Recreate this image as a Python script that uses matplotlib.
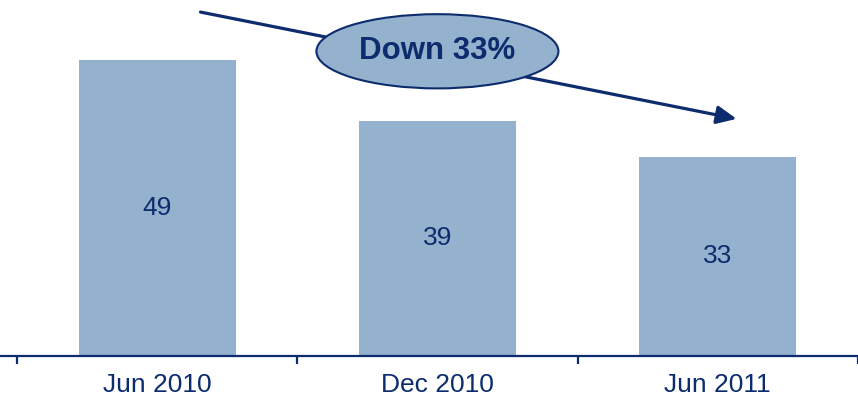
import matplotlib.pyplot as plt
from matplotlib.patches import Ellipse

periods = ["Jun 2010", "Dec 2010", "Jun 2011"]
counts = [49, 39, 33]
change_label = "Down 33%"

navy = "#0C2C6E"
bar_color = "#94B1CD"

plt.rcParams["font.family"] = ["Liberation Sans", "DejaVu Sans"]

fig = plt.figure(figsize=(8.58, 3.99), dpi=100)
ax = fig.add_axes([0, 43 / 399, 1, 356 / 399])

x = list(range(len(periods)))
ax.bar(x, counts, width=0.56, color=bar_color, zorder=2)
for xi, v in zip(x, counts):
    ax.text(xi, v / 2, str(v), ha="center", va="center", fontsize=19, color=navy)

ax.set_xlim(-0.56, 2.46)
ax.set_ylim(0, 59.0)

# trend arrow with the callout bubble on top of it
ax.annotate("", xy=(2.067, 39.3), xytext=(0.155, 57.0),
            arrowprops=dict(arrowstyle="-|>,head_length=1.2,head_width=0.55",
                            color=navy, lw=2.3, shrinkA=0, shrinkB=0), zorder=3)
ax.add_patch(Ellipse((1.0, 50.5), 0.863, 12.3, facecolor=bar_color,
                     edgecolor=navy, lw=1.5, zorder=4))
ax.text(1.0, 50.5, change_label, ha="center", va="center", fontsize=22.5,
        fontweight="bold", color=navy, zorder=5)

for side in ["top", "left", "right"]:
    ax.spines[side].set_visible(False)
ax.spines["bottom"].set_color(navy)
ax.spines["bottom"].set_linewidth(1.6)
ax.set_yticks([])
ax.set_xticks(x)
ax.set_xticklabels(periods, fontsize=19, color=navy)
ax.tick_params(axis="x", which="major", length=0, pad=12)
ax.set_xticks([-0.5, 0.5, 1.5, 2.5], minor=True)
ax.tick_params(axis="x", which="minor", length=6, width=1.6, color=navy, direction="out")

fig.savefig("out.png", dpi=100)
